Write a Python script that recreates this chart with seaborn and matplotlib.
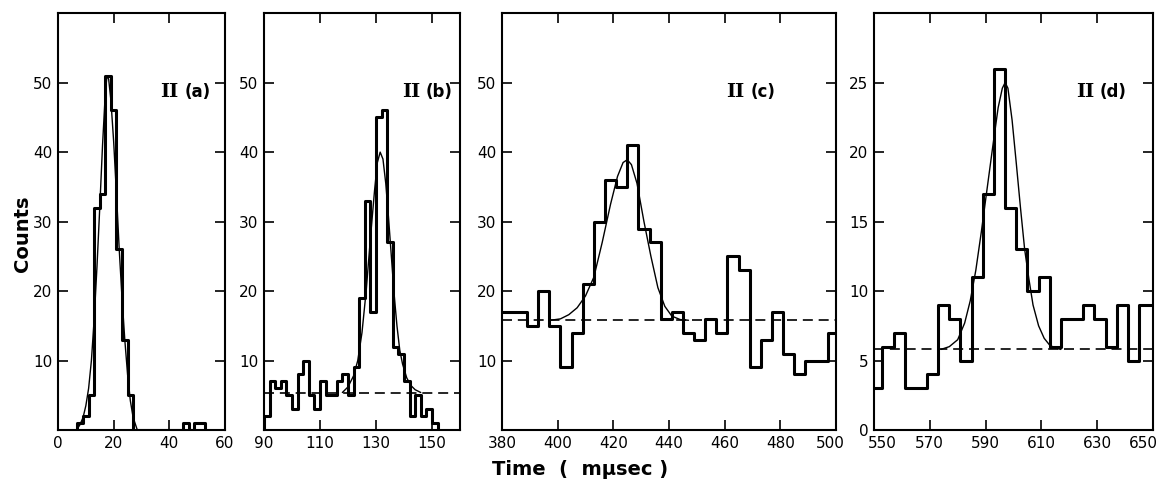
import matplotlib
matplotlib.use("Agg")

import numpy as np
import matplotlib.pyplot as plt
import matplotlib.transforms as mtransforms
import seaborn as sns

# ---- panel II(a): 2-unit bins from 7 to 53 ----
a_start, a_width = 7, 2
a_counts = [1, 2, 5, 32, 34, 51, 46, 26, 13, 5,
            0, 0, 0, 0, 0, 0, 0, 0, 0,
            1, 0, 1, 1]
a_fit_x = [6.6, 7.8, 9.0, 10.0, 11.0, 12.0, 13.0, 14.0, 15.0, 16.0, 17.0, 17.6,
           18.2, 19.0, 20.0, 21.0, 22.0, 23.0, 24.0, 25.0, 26.0, 27.0, 28.5]
a_fit_y = [0, 0.7, 1.8, 3.5, 6.0, 10.0, 16.0, 23.5, 32.0, 41.0, 48.5, 51.0,
           50.5, 47.5, 41.5, 34.0, 26.0, 19.0, 13.0, 8.0, 4.2, 1.8, 0]

# ---- panel II(b): 2-unit bins from 90 to 152 ----
b_start, b_width = 90, 2
b_counts = [2, 7, 6, 7, 5, 3, 8, 10, 5, 3, 7, 5, 5, 7, 8, 5, 9, 19, 33, 17,
            45, 46, 27, 12, 11, 7, 2, 5, 2, 3, 1]
b_fit_x = [118, 120, 122, 123.5, 125, 126.5, 128, 129.5, 130.5, 131.5, 132.5,
           133.5, 134.5, 135.5, 136.5, 137.5, 138.5, 139.5, 141, 142.5, 144, 146]
b_fit_y = [5.4, 6.2, 7.8, 10, 14, 20, 27.5, 34.5, 38.5, 40, 39, 35.5, 30.5,
           25, 19.5, 15, 11.5, 9.5, 7.5, 6.4, 5.8, 5.4]
b_base = 5.3

# ---- panel II(c): 4-unit bins from 377 to 501 ----
c_start, c_width = 377, 4
c_counts = [17, 17, 17, 15, 20, 15, 9, 14, 21, 30, 36, 35, 41, 29, 27, 16,
            17, 14, 13, 16, 14, 25, 23, 9, 13, 17, 11, 8, 10, 10, 14]
c_fit_x = [397.5, 401, 404, 407, 410, 413, 416, 419, 421.5, 423.5, 425, 426.5,
           428.5, 431, 433.5, 436, 438.5, 441, 444, 447]
c_fit_y = [15.8, 16.0, 16.6, 17.6, 19.3, 22, 27, 32.5, 36.5, 38.5, 38.9, 38.2,
           35.5, 30, 25, 20.5, 17.8, 16.4, 15.9, 15.8]
c_base = 15.8

# ---- panel II(d): 4-unit bins from 549 to 653 ----
d_start, d_width = 549, 4
d_counts = [3, 6, 7, 3, 3, 4, 9, 8, 5, 11, 17, 26, 16, 13, 10, 11, 6, 8, 8,
            9, 8, 6, 9, 5, 9, 9]
d_fit_x = [574, 577, 580, 582.5, 584.5, 586.5, 588.5, 590.5, 592.5, 594.5, 596,
           597, 598, 599.5, 601, 602.5, 604, 605.5, 607, 609, 611, 613, 615, 617]
d_fit_y = [5.8, 6.0, 6.5, 7.7, 9.3, 11.5, 14.3, 17.3, 20.3, 23.2, 24.6, 25.0,
           24.6, 22.3, 19.2, 16, 13, 10.9, 9.0, 7.5, 6.6, 6.1, 5.9, 5.8]
d_base = 5.8

panels = [
    dict(start=a_start, width=a_width, counts=a_counts, fx=a_fit_x, fy=a_fit_y,
         base=None, xlim=(0, 60), ylim=(0, 60), xticks=[0, 20, 40, 60],
         yticks=[10, 20, 30, 40, 50], tag="(a)", lx=0.74, shift={},
         rect=[0.0498, 0.117, 0.1433, 0.856]),
    dict(start=b_start, width=b_width, counts=b_counts, fx=b_fit_x, fy=b_fit_y,
         base=b_base, xlim=(90, 160), ylim=(0, 60), xticks=[90, 110, 130, 150],
         yticks=[10, 20, 30, 40, 50], tag="(b)", lx=0.81, shift={},
         rect=[0.2266, 0.117, 0.1682, 0.856]),
    dict(start=c_start, width=c_width, counts=c_counts, fx=c_fit_x, fy=c_fit_y,
         base=c_base, xlim=(380, 500), ylim=(0, 60),
         xticks=[380, 400, 420, 440, 460, 480, 500],
         yticks=[10, 20, 30, 40, 50], tag="(c)", lx=0.735, shift={6: -4},
         rect=[0.4309, 0.117, 0.2867, 0.856]),
    dict(start=d_start, width=d_width, counts=d_counts, fx=d_fit_x, fy=d_fit_y,
         base=d_base, xlim=(550, 650), ylim=(0, 30),
         xticks=[550, 570, 590, 610, 630, 650],
         yticks=[0, 5, 10, 15, 20, 25], tag="(d)", lx=0.80, shift={0: 6, 5: -7},
         rect=[0.7502, 0.117, 0.2395, 0.856]),
]

sns.set_style("ticks")
plt.rcParams["font.family"] = ["DejaVu Sans"]
for key in ("text.color", "axes.labelcolor", "xtick.color", "ytick.color"):
    plt.rcParams[key] = "black"

fig = plt.figure(figsize=(11.65, 4.87), dpi=100)

for p in panels:
    ax = fig.add_axes(p["rect"])
    n = len(p["counts"])
    edges = p["start"] + p["width"] * np.arange(n + 1)
    # step outline: rise from zero at the first edge, drop to zero at the last
    step_x = np.concatenate([[edges[0]], edges])
    step_y = np.concatenate([[0], p["counts"], [0]])
    sns.lineplot(x=step_x, y=step_y, sort=False, estimator=None,
                 drawstyle="steps-post", color="black", linewidth=2.2, ax=ax)
    sns.lineplot(x=p["fx"], y=p["fy"], sort=False, estimator=None,
                 color="black", linewidth=1.0, ax=ax)
    if p["base"] is not None:
        ax.axhline(p["base"], color="black", linewidth=1.2, ls=(0, (6, 3.5)))

    ax.set_xlim(*p["xlim"])
    ax.set_ylim(*p["ylim"])
    ax.set_xticks(p["xticks"])
    ax.set_yticks(p["yticks"])
    ax.set_xlabel("")
    ax.set_ylabel("")
    ax.tick_params(direction="in", length=7, width=1.2, top=True, right=True,
                   labelsize=11, pad=4)
    for s in ax.spines.values():
        s.set_linewidth(1.5)
        s.set_color("black")
    labels = ax.get_xticklabels()
    for i, dx in p["shift"].items():
        off = mtransforms.ScaledTranslation(dx / 72, 0, fig.dpi_scale_trans)
        labels[i].set_transform(labels[i].get_transform() + off)

    # panel tag: roman "II" with slab serifs, then the letter
    ax.annotate("II", xy=(p["lx"], 0.81), xycoords="axes fraction",
                xytext=(-2, 0), textcoords="offset points", ha="right",
                va="center", fontsize=14, fontweight="bold",
                family="DejaVu Serif")
    ax.annotate(p["tag"], xy=(p["lx"], 0.81), xycoords="axes fraction",
                xytext=(2, 0), textcoords="offset points", ha="left",
                va="center", fontsize=12, fontweight="bold")

fig.text(0.019, 0.52, "Counts", rotation=90, ha="center", va="center",
         fontsize=14, fontweight="bold")
fig.text(0.498, 0.035, "Time  (  mμsec )", ha="center", va="center",
         fontsize=14, fontweight="bold")

fig.savefig("out.png", dpi=100, facecolor="white")
